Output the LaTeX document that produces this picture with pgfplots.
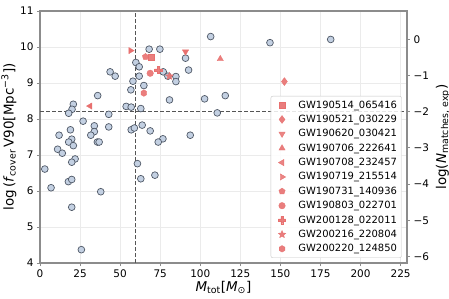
\documentclass[border=0pt]{standalone}
\usepackage{fontspec}
\setmainfont{DejaVu Sans}
\usepackage{pgfplots}
\pgfplotsset{compat=1.18}
\usetikzlibrary{plotmarks}

\definecolor{ptfill}{HTML}{C3D0E2}
\definecolor{ptedge}{HTML}{4F5866}
\definecolor{evred}{HTML}{E8706F}
\definecolor{gridc}{HTML}{EBEBEB}
\definecolor{spine}{HTML}{8C8C8C}
\definecolor{dashc}{HTML}{555555}

\pgfdeclareplotmark{hexagon*}{%
  \pgfpathmoveto{\pgfpointpolar{90}{\pgfplotmarksize}}%
  \pgfpathlineto{\pgfpointpolar{150}{\pgfplotmarksize}}%
  \pgfpathlineto{\pgfpointpolar{210}{\pgfplotmarksize}}%
  \pgfpathlineto{\pgfpointpolar{270}{\pgfplotmarksize}}%
  \pgfpathlineto{\pgfpointpolar{330}{\pgfplotmarksize}}%
  \pgfpathlineto{\pgfpointpolar{30}{\pgfplotmarksize}}%
  \pgfpathclose\pgfusepathqfillstroke}
\pgfdeclareplotmark{plus*}{%
  \pgfpathmoveto{\pgfpoint{-0.33\pgfplotmarksize}{\pgfplotmarksize}}%
  \pgfpathlineto{\pgfpoint{0.33\pgfplotmarksize}{\pgfplotmarksize}}%
  \pgfpathlineto{\pgfpoint{0.33\pgfplotmarksize}{0.33\pgfplotmarksize}}%
  \pgfpathlineto{\pgfpoint{\pgfplotmarksize}{0.33\pgfplotmarksize}}%
  \pgfpathlineto{\pgfpoint{\pgfplotmarksize}{-0.33\pgfplotmarksize}}%
  \pgfpathlineto{\pgfpoint{0.33\pgfplotmarksize}{-0.33\pgfplotmarksize}}%
  \pgfpathlineto{\pgfpoint{0.33\pgfplotmarksize}{-\pgfplotmarksize}}%
  \pgfpathlineto{\pgfpoint{-0.33\pgfplotmarksize}{-\pgfplotmarksize}}%
  \pgfpathlineto{\pgfpoint{-0.33\pgfplotmarksize}{-0.33\pgfplotmarksize}}%
  \pgfpathlineto{\pgfpoint{-\pgfplotmarksize}{-0.33\pgfplotmarksize}}%
  \pgfpathlineto{\pgfpoint{-\pgfplotmarksize}{0.33\pgfplotmarksize}}%
  \pgfpathlineto{\pgfpoint{-0.33\pgfplotmarksize}{0.33\pgfplotmarksize}}%
  \pgfpathclose\pgfusepathqfillstroke}
\pgfdeclareplotmark{star*}{%
  \pgfpathmoveto{\pgfpointpolar{90}{\pgfplotmarksize}}%
  \pgfpathlineto{\pgfpointpolar{126}{0.45\pgfplotmarksize}}%
  \pgfpathlineto{\pgfpointpolar{162}{\pgfplotmarksize}}%
  \pgfpathlineto{\pgfpointpolar{198}{0.45\pgfplotmarksize}}%
  \pgfpathlineto{\pgfpointpolar{234}{\pgfplotmarksize}}%
  \pgfpathlineto{\pgfpointpolar{270}{0.45\pgfplotmarksize}}%
  \pgfpathlineto{\pgfpointpolar{306}{\pgfplotmarksize}}%
  \pgfpathlineto{\pgfpointpolar{342}{0.45\pgfplotmarksize}}%
  \pgfpathlineto{\pgfpointpolar{18}{\pgfplotmarksize}}%
  \pgfpathlineto{\pgfpointpolar{54}{0.45\pgfplotmarksize}}%
  \pgfpathclose\pgfusepathqfillstroke}

\pgfplotsset{
  ev/.style={only marks, color=evred, mark size=3.6,
    mark options={fill=evred, draw=evred, fill opacity=0.9, line width=0.3pt}},
}

\begin{document}
\begin{tikzpicture}
\useasboundingbox (-40bp,-36bp) rectangle (409bp,263bp);
\begin{axis}[
  scale only axis, width=367bp, height=252bp,
  at={(0,0)}, anchor=south west,
  xmin=0, xmax=229, ymin=4, ymax=11,
  xtick={0,25,...,225}, ytick={4,5,...,11},
  /pgf/number format/assume math mode=true,
  ticklabel style={font=\fontsize{10.5}{12}\selectfont},
  grid=major, major grid style={gridc, line width=0.6pt},
  axis line style={spine, line width=1.2pt},
  tick style={spine, line width=0.8pt},
  tick align=outside, major tick length=3bp,
  xtick pos=bottom, ytick pos=left,
  xlabel={\textit{M}\textsubscript{tot}[\textit{M}\textsubscript{⊙}]},
  ylabel={log\,(\textit{f}\textsubscript{cover}\,V90[Mpc\textsuperscript{−3}])},
  label style={font=\fontsize{13.5}{15}\selectfont},
  xlabel style={yshift=3bp},
  ylabel style={yshift=-3bp},
  legend style={at={(0.9856,0.02)}, anchor=south east,
    font=\fontsize{10}{12}\selectfont,
    draw=gray!45, rounded corners=2pt, fill=white, fill opacity=0.85, draw opacity=1, text opacity=1,
    row sep=1.5bp, inner sep=2.5bp},
  legend cell align=left,
  legend image code/.code={\path (-0.3cm,0) (0.5cm,0); \draw[#1] plot coordinates {(0cm,0cm)};},
]
\addplot[dashc, dash pattern=on 4bp off 2bp, line width=1pt, forget plot] coordinates {(59.5,4) (59.5,11)};
\addplot[dashc, dash pattern=on 4bp off 2bp, line width=1pt, forget plot] coordinates {(0,8.22) (229,8.22)};
\addplot[only marks, mark=*, mark size=3.4, mark options={fill=ptfill, draw=ptedge, line width=0.7pt}, forget plot] coordinates {
(106.5,10.29) (68.1,9.94) (74.8,9.94) (90.8,9.69) (59.8,9.57) (61.9,9.45)
(92.7,9.36) (43.75,9.31) (46.9,9.19) (76.9,9.31) (61.9,9.19) (79.8,9.19)
(84.8,9.18) (84.8,9.04) (58.0,9.05) (64.8,8.93) (56.7,8.81) (36.0,8.65)
(102.7,8.56) (115.6,8.65) (80.8,8.53) (20.8,8.41) (53.75,8.35) (56.9,8.33)
(20.0,8.27) (62.9,8.29) (110.6,8.17) (17.9,8.16) (42.9,8.13) (26.9,7.94)
(33.9,7.81) (42.9,7.78) (63.75,7.83) (19.0,7.70) (33.9,7.65) (56.9,7.70)
(58.9,7.75) (68.75,7.67) (31.7,7.55) (11.9,7.55) (93.75,7.55) (19.8,7.44)
(17.9,7.36) (35.8,7.36) (36.9,7.36) (76.7,7.45) (73.75,7.36) (20.8,7.26)
(11.0,7.16) (13.9,7.05) (3.0,6.61) (21.9,6.89) (19.8,6.80) (60.8,6.76)
(6.9,6.09) (17.7,6.26) (19.8,6.32) (62.9,6.34) (71.7,6.44) (37.9,5.98)
(19.8,5.55) (25.8,4.37) (143.5,10.12) (181.4,10.21)
};
\addplot[ev, mark=square*, mark size=3.0] coordinates {(69.2,9.73)};
\addlegendentry{GW190514\_065416}
\addplot[ev, mark=diamond*, mark size=4.0] coordinates {(152.5,9.04)};
\addlegendentry{GW190521\_030229}
\addplot[ev, mark=triangle*, mark options={rotate=180}] coordinates {(90.8,9.87)};
\addlegendentry{GW190620\_030421}
\addplot[ev, mark=triangle*] coordinates {(112.5,9.67)};
\addlegendentry{GW190706\_222641}
\addplot[ev, mark=triangle*, mark options={rotate=90}] coordinates {(31.25,8.36)};
\addlegendentry{GW190708\_232457}
\addplot[ev, mark=triangle*, mark options={rotate=-90}] coordinates {(56.5,9.90)};
\addlegendentry{GW190719\_215514}
\addplot[ev, mark=pentagon*, mark size=3.3] coordinates {(65.8,9.73)};
\addlegendentry{GW190731\_140936}
\addplot[ev, mark=*, mark size=3.3] coordinates {(68.75,9.27)};
\addlegendentry{GW190803\_022701}
\addplot[ev, mark=plus*] coordinates {(73.75,9.36)};
\addlegendentry{GW200128\_022011}
\addplot[ev, mark=star*, mark size=4.0] coordinates {(80.8,9.19)};
\addlegendentry{GW200216\_220804}
\addplot[ev, mark=hexagon*, mark size=3.3] coordinates {(64.8,8.72)};
\addlegendentry{GW200220\_124850}
\end{axis}
\begin{axis}[
  scale only axis, width=367bp, height=252bp,
  at={(0,0)}, anchor=south west,
  xmin=0, xmax=229, ymin=-6.18, ymax=0.78,
  axis x line=none, axis y line*=right,
  yticklabel pos=right, ylabel near ticks,
  ytick={-6,-5,...,0},
  yticklabels={−6,−5,−4,−3,−2,−1,0},
  ticklabel style={font=\fontsize{10.5}{12}\selectfont},
  axis line style={spine, line width=1.2pt},
  tick style={spine, line width=0.8pt},
  tick align=outside, major tick length=3bp,
  ylabel={log(\textit{N}\textsubscript{matches, exp})},
  label style={font=\fontsize{13.5}{15}\selectfont},
]
\end{axis}
\end{tikzpicture}
\end{document}
